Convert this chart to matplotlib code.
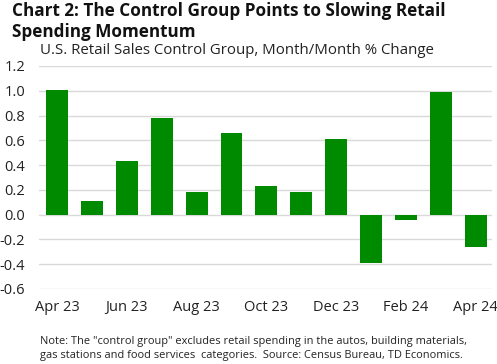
import matplotlib.pyplot as plt

months = ['Apr 23', 'May 23', 'Jun 23', 'Jul 23', 'Aug 23', 'Sep 23', 'Oct 23',
          'Nov 23', 'Dec 23', 'Jan 24', 'Feb 24', 'Mar 24', 'Apr 24']
mom_change = [1.01, 0.11, 0.43, 0.78, 0.18, 0.66, 0.23, 0.18, 0.61, -0.39, -0.04, 0.99, -0.26]
y_ticks = [-0.6, -0.4, -0.2, 0.0, 0.2, 0.4, 0.6, 0.8, 1.0, 1.2]

plt.rcParams['font.family'] = ['Open Sans', 'DejaVu Sans']

fig = plt.figure(figsize=(4.97, 3.64), dpi=100)
ax = fig.add_axes([39 / 497, 1 - 289 / 364, (492 - 39) / 497, (289 - 66) / 364])

x = list(range(len(months)))
ax.bar(x, mom_change, width=0.63, color='#008a00', zorder=3)

ax.set_ylim(-0.6, 1.2)
ax.set_xlim(-0.52, 12.47)
ax.set_yticks(y_ticks)
ax.set_yticklabels([f'{v:.1f}' for v in y_ticks])
ax.set_xticks(x[::2])
ax.set_xticklabels(months[::2])
ax.grid(axis='y', color='#d9d9d9', linewidth=1, zorder=0)
for s in ax.spines.values():
    s.set_visible(False)
ax.tick_params(length=0, labelsize=10.5, colors='#222222')
ax.tick_params(axis='y', pad=10)
ax.tick_params(axis='x', pad=8)

fig.text(12 / 497, 1 - 2 / 364, 'Chart 2: The Control Group Points to Slowing Retail\nSpending Momentum',
         fontsize=12.3, fontweight='bold', va='top', ha='left', linespacing=1.2, color='#111111')
fig.text(40 / 497, 1 - 51 / 364, 'U.S. Retail Sales Control Group, Month/Month % Change',
         fontsize=10.8, va='center', ha='left', color='#222222')
fig.text(40 / 497, 1 - 336 / 364,
         'Note: The "control group" excludes retail spending in the autos, building materials,\n'
         'gas stations and food services  categories.  Source: Census Bureau, TD Economics.',
         fontsize=7.9, va='top', ha='left', linespacing=1.35, color='#222222')

plt.savefig('out.png', dpi=100)
